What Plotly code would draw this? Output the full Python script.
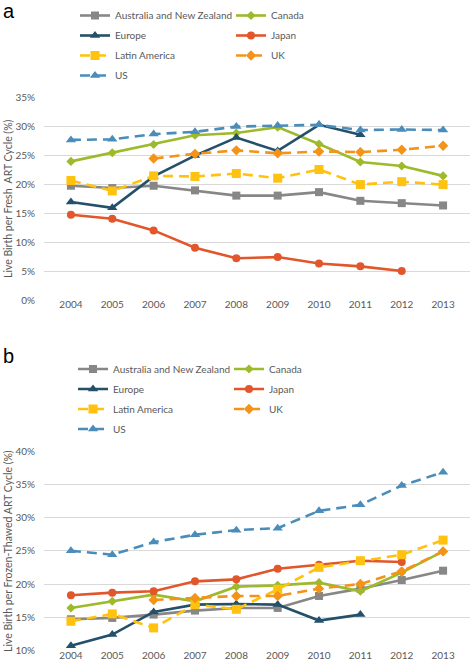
import plotly.graph_objects as go

W, H = 473, 668
years = ['2004', '2005', '2006', '2007', '2008', '2009', '2010', '2011', '2012', '2013']
series_names = ['Australia and New Zealand', 'Canada', 'Europe', 'Japan', 'Latin America', 'UK', 'US']

# Panel a: live birth per fresh ART cycle (%)
fresh_aus = [19.7, 19.3, 19.7, 18.9, 18.0, 18.0, 18.6, 17.1, 16.7, 16.3]
fresh_canada = [23.9, 25.4, 26.8, 28.4, 28.8, 29.8, 26.9, 23.8, 23.1, 21.4]
fresh_europe = [16.9, 15.9, 21.3, 24.9, 28.0, 25.7, 30.2, 28.5, None, None]
fresh_japan = [14.7, 14.0, 12.0, 9.0, 7.2, 7.4, 6.3, 5.8, 5.0, None]
fresh_latam = [20.6, 18.8, 21.4, 21.3, 21.8, 21.0, 22.5, 19.9, 20.4, 19.9]
fresh_uk = [None, None, 24.4, 25.2, 25.8, 25.3, 25.6, 25.5, 25.9, 26.6]
fresh_us = [27.6, 27.7, 28.6, 29.0, 29.9, 30.1, 30.2, 29.3, 29.4, 29.3]

# Panel b: live birth per frozen-thawed ART cycle (%)
frozen_aus = [14.7, 14.9, 15.4, 16.0, 16.4, 16.4, 18.2, 19.3, 20.6, 22.0]
frozen_canada = [16.4, 17.4, 18.4, 17.4, 19.6, 19.8, 20.2, 18.9, 21.7, 24.9]
frozen_europe = [10.7, 12.4, 15.8, 16.9, 17.0, 16.9, 14.5, 15.4, None, None]
frozen_japan = [18.3, 18.7, 18.9, 20.4, 20.7, 22.3, 22.9, 23.5, 23.3, None]
frozen_latam = [14.4, 15.5, 13.4, 16.9, 16.2, 19.2, 22.5, 23.5, 24.4, 26.6]
frozen_uk = [None, None, 17.6, 17.9, 18.2, 18.2, 19.3, 20.0, 21.9, 24.9]
frozen_us = [25.0, 24.4, 26.3, 27.4, 28.1, 28.4, 31.0, 31.9, 34.8, 36.8]

fresh = [fresh_aus, fresh_canada, fresh_europe, fresh_japan, fresh_latam, fresh_uk, fresh_us]
frozen = [frozen_aus, frozen_canada, frozen_europe, frozen_japan, frozen_latam, frozen_uk, frozen_us]

colors = ['#878787', '#9DBA2B', '#24506A', '#E2562B', '#FFC20E', '#F39419', '#4A8DBA']
symbols = ['square', 'diamond', 'triangle-up', 'circle', 'square', 'diamond', 'triangle-up']
msizes = [8, 7, 9, 8, 9, 8, 9]
dashes = ['solid', 'solid', 'solid', 'solid', '10px,6px', '10px,6px', '10px,6px']
column = [0, 1, 0, 1, 0, 1, 0]

FONT = 'Lato'
GREY = '#595959'

fig = go.Figure()
for panel, data, ax in [('a', fresh, ''), ('b', frozen, '2')]:
    for i, name in enumerate(series_names):
        if panel == 'a':
            lg = 'legend' if column[i] == 0 else 'legend2'
        else:
            lg = 'legend3' if column[i] == 0 else 'legend4'
        fig.add_trace(go.Scatter(
            x=years, y=data[i], name=name, mode='lines+markers',
            xaxis='x' + ax, yaxis='y' + ax,
            line=dict(color=colors[i], width=2.6, dash=dashes[i]),
            marker=dict(symbol=symbols[i], size=msizes[i], color=colors[i]),
            legend=lg, legendgroup=panel + str(i), cliponaxis=False,
        ))

def py(px):
    return 1 - px / H

x0, x1 = 44 / W, 470 / W
axis_common = dict(type='category', showgrid=False, zeroline=False, showline=False,
                   ticks='', ticklabelstandoff=-3,
                   tickfont=dict(family=FONT, size=10, color=GREY),
                   automargin=False, fixedrange=True)
yaxis_common = dict(showgrid=True, gridcolor='#D9D9D9', gridwidth=1, zeroline=False,
                    showline=False, ticks='', ticksuffix='%', ticklabelstandoff=8,
                    tickfont=dict(family=FONT, size=10, color=GREY), automargin=False)

legend_common = dict(font=dict(family=FONT, size=10, color=GREY), bgcolor='rgba(0,0,0,0)',
                     orientation='v', xanchor='left', yanchor='top', tracegroupgap=1,
                     traceorder='grouped', itemwidth=30)

fig.update_layout(
    width=W, height=H, margin=dict(l=0, r=0, t=0, b=0, autoexpand=False),
    paper_bgcolor='white', plot_bgcolor='white',
    xaxis=dict(domain=[x0, x1], anchor='y', **axis_common),
    yaxis=dict(domain=[py(300), py(97)], range=[0, 35], dtick=5, anchor='x', **yaxis_common),
    xaxis2=dict(domain=[x0, x1], anchor='y2', **axis_common),
    yaxis2=dict(domain=[py(650.5), py(451)], range=[10, 40], dtick=5, anchor='x2', **yaxis_common),
    legend=dict(x=75 / W, y=py(1), **legend_common),
    legend2=dict(x=231 / W, y=py(1), **legend_common),
    legend3=dict(x=73 / W, y=py(354.5), **legend_common),
    legend4=dict(x=229 / W, y=py(354.5), **legend_common),
    showlegend=True,
    annotations=[
        dict(text='a', x=1 / W, y=py(-2), xref='paper', yref='paper', xanchor='left', yanchor='top',
             showarrow=False, font=dict(family='Liberation Sans', size=20, color='black')),
        dict(text='b', x=1 / W, y=py(343), xref='paper', yref='paper', xanchor='left', yanchor='top',
             showarrow=False, font=dict(family='Liberation Sans', size=20, color='black')),
        dict(text='Live Birth per Fresh  ART Cycle (%)', x=8 / W, y=py(199), xref='paper', yref='paper',
             xanchor='center', yanchor='middle',
             textangle=-90, showarrow=False, font=dict(family=FONT, size=10.5, color=GREY)),
        dict(text='Live Birth per Frozen-Thawed ART Cycle (%)', x=8 / W, y=py(551), xref='paper', yref='paper',
             xanchor='center', yanchor='middle',
             textangle=-90, showarrow=False, font=dict(family=FONT, size=10.5, color=GREY)),
    ],
)

fig.write_html('out.html', config={'displayModeBar': False},
               post_script="document.body.style.margin='0';")
